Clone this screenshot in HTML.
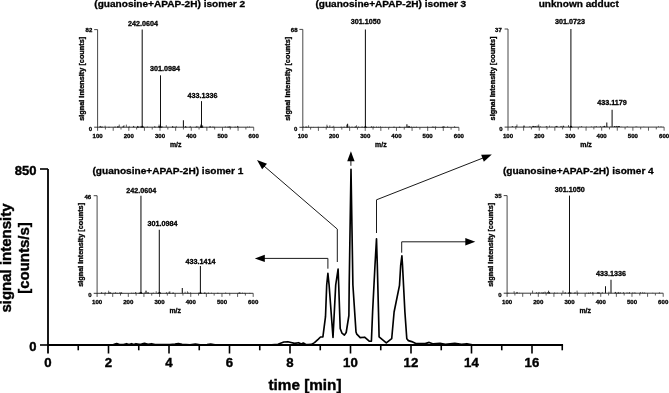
<!DOCTYPE html>
<html><head><meta charset="utf-8"><style>
html,body{margin:0;padding:0;background:#fff;width:669px;height:393px;overflow:hidden}
svg{display:block;filter:grayscale(1)}
</style></head><body>
<svg width="669" height="393" viewBox="0 0 669 393">
<rect width="669" height="393" fill="#fff"/>
<line x1="48" y1="169" x2="48" y2="353.5" stroke="#000" stroke-width="1.8"/>
<line x1="40" y1="169" x2="48" y2="169" stroke="#000" stroke-width="1.6"/>
<line x1="40" y1="345" x2="48" y2="345" stroke="#000" stroke-width="1.6"/>
<line x1="48" y1="345" x2="563.05" y2="345" stroke="#000" stroke-width="1.8"/>
<line x1="78.25" y1="345" x2="78.25" y2="350.3" stroke="#000" stroke-width="1.6"/>
<line x1="108.5" y1="345" x2="108.5" y2="353.5" stroke="#000" stroke-width="1.6"/>
<line x1="138.75" y1="345" x2="138.75" y2="350.3" stroke="#000" stroke-width="1.6"/>
<line x1="169" y1="345" x2="169" y2="353.5" stroke="#000" stroke-width="1.6"/>
<line x1="199.25" y1="345" x2="199.25" y2="350.3" stroke="#000" stroke-width="1.6"/>
<line x1="229.5" y1="345" x2="229.5" y2="353.5" stroke="#000" stroke-width="1.6"/>
<line x1="259.75" y1="345" x2="259.75" y2="350.3" stroke="#000" stroke-width="1.6"/>
<line x1="290" y1="345" x2="290" y2="353.5" stroke="#000" stroke-width="1.6"/>
<line x1="320.25" y1="345" x2="320.25" y2="350.3" stroke="#000" stroke-width="1.6"/>
<line x1="350.5" y1="345" x2="350.5" y2="353.5" stroke="#000" stroke-width="1.6"/>
<line x1="380.75" y1="345" x2="380.75" y2="350.3" stroke="#000" stroke-width="1.6"/>
<line x1="411" y1="345" x2="411" y2="353.5" stroke="#000" stroke-width="1.6"/>
<line x1="441.25" y1="345" x2="441.25" y2="350.3" stroke="#000" stroke-width="1.6"/>
<line x1="471.5" y1="345" x2="471.5" y2="353.5" stroke="#000" stroke-width="1.6"/>
<line x1="501.75" y1="345" x2="501.75" y2="350.3" stroke="#000" stroke-width="1.6"/>
<line x1="532" y1="345" x2="532" y2="353.5" stroke="#000" stroke-width="1.6"/>
<line x1="562.25" y1="345" x2="562.25" y2="350.3" stroke="#000" stroke-width="1.6"/>
<text x="36.4" y="174.7" font-family="'Liberation Sans', sans-serif" font-weight="bold" font-size="13" text-anchor="end" stroke="#000" stroke-width="0.4">850</text>
<text x="36.4" y="351.2" font-family="'Liberation Sans', sans-serif" font-weight="bold" font-size="13" text-anchor="end" stroke="#000" stroke-width="0.4">0</text>
<text x="47.9" y="367.1" font-family="'Liberation Sans', sans-serif" font-weight="bold" font-size="13.2" text-anchor="middle" stroke="#000" stroke-width="0.4">0</text>
<text x="108.4" y="367.1" font-family="'Liberation Sans', sans-serif" font-weight="bold" font-size="13.2" text-anchor="middle" stroke="#000" stroke-width="0.4">2</text>
<text x="168.9" y="367.1" font-family="'Liberation Sans', sans-serif" font-weight="bold" font-size="13.2" text-anchor="middle" stroke="#000" stroke-width="0.4">4</text>
<text x="229.4" y="367.1" font-family="'Liberation Sans', sans-serif" font-weight="bold" font-size="13.2" text-anchor="middle" stroke="#000" stroke-width="0.4">6</text>
<text x="289.9" y="367.1" font-family="'Liberation Sans', sans-serif" font-weight="bold" font-size="13.2" text-anchor="middle" stroke="#000" stroke-width="0.4">8</text>
<text x="350.4" y="367.1" font-family="'Liberation Sans', sans-serif" font-weight="bold" font-size="13.2" text-anchor="middle" stroke="#000" stroke-width="0.4">10</text>
<text x="410.9" y="367.1" font-family="'Liberation Sans', sans-serif" font-weight="bold" font-size="13.2" text-anchor="middle" stroke="#000" stroke-width="0.4">12</text>
<text x="471.4" y="367.1" font-family="'Liberation Sans', sans-serif" font-weight="bold" font-size="13.2" text-anchor="middle" stroke="#000" stroke-width="0.4">14</text>
<text x="531.9" y="367.1" font-family="'Liberation Sans', sans-serif" font-weight="bold" font-size="13.2" text-anchor="middle" stroke="#000" stroke-width="0.4">16</text>
<text x="305" y="389.6" font-family="'Liberation Sans', sans-serif" font-weight="bold" font-size="15.3" text-anchor="middle" stroke="#000" stroke-width="0.4">time [min]</text>
<text transform="translate(11,258) rotate(-90)" font-family="'Liberation Sans', sans-serif" font-weight="bold" font-size="15" text-anchor="middle" stroke="#000" stroke-width="0.4">signal intensity</text>
<text transform="translate(28.7,258) rotate(-90)" font-family="'Liberation Sans', sans-serif" font-weight="bold" font-size="15" text-anchor="middle" stroke="#000" stroke-width="0.4">[counts/s]</text>
<path d="M48,344.9 L110,344.9 L113.5,344.6 L116.7,343.6 L119.5,344.5 L123.5,344.5 L126.5,343.7 L129,344.5 L131.5,343.7 L133.7,344.5 L136,343.7 L139,344.4 L141.5,344.1 L144.5,343.3 L148,344.2 L151.6,343.7 L155,344.5 L170,344.6 L175,344 L178.4,343.5 L182,344.4 L190,344.7 L195.4,344.1 L200,344.8 L207,344.6 L210.7,344.1 L215,344.8 L271.7,344.8 L278,344.2 L283.8,342 L287.9,341.7 L291,342.5 L294.6,343.4 L298.6,342.7 L301.3,344 L303.3,343 L305.5,344.2 L308,344.6 L311.5,344.4 L314.5,342.6 L318.1,339.3 L320.5,337 L322.9,336.9 L325.5,316.7 L326.7,285 L327.9,273.3 L329.1,285 L333,337.5 L335.7,285 L338.1,269.1 L338.7,285 L340.2,328.5 L342,333.2 L344.4,335.1 L346.2,332.5 L348.9,315.5 L349.2,285 L351,169.3 L352.9,285 L356,332 L356.8,334.2 L360.2,337.6 L364.6,337.2 L367.2,339.4 L369.2,341.2 L371.4,341.2 L372.6,312 L375,265 L376.5,238.8 L377.3,265 L378.5,312 L379.1,336.9 L386.3,342.8 L391.7,338.7 L394.1,312 L399.5,285.3 L400.7,265 L401.9,255.9 L402.5,265 L404.9,312 L406.8,338.8 L408.4,340.6 L411.7,341.6 L415.8,343.6 L425.2,343.6 L429.2,342.4 L433.3,343.9 L440,343.4 L445.4,344.2 L454.8,343.4 L461.5,344.3 L466.9,343.7 L472.3,344.7 L480,344.9" fill="none" stroke="#000" stroke-width="1.65" stroke-linejoin="round"/>
<polyline points="337.3,262 337.3,229.1 264,166" fill="none" stroke="#1a1a1a" stroke-width="1.0"/>
<path d="M257,160 L266.99,163.72 L262.17,169.33 Z" fill="#000"/>
<line x1="350.9" y1="165.8" x2="350.9" y2="160" stroke="#1a1a1a" stroke-width="1.0"/>
<path d="M350.9,151.3 L354.6,161.3 L347.2,161.3 Z" fill="#000"/>
<polyline points="327.9,268.7 327.9,258.4 262,258.4" fill="none" stroke="#1a1a1a" stroke-width="1.0"/>
<path d="M254.8,258.4 L264.8,254.7 L264.8,262.1 Z" fill="#000"/>
<polyline points="376.5,233 376.5,199.8 484,157.6" fill="none" stroke="#1a1a1a" stroke-width="1.0"/>
<path d="M491.8,154.6 L483.84,161.69 L481.14,154.81 Z" fill="#000"/>
<polyline points="401.7,252.7 401.7,241.8 468,241.8" fill="none" stroke="#1a1a1a" stroke-width="1.0"/>
<path d="M475.3,241.8 L465.3,245.5 L465.3,238.1 Z" fill="#000"/>
<text transform="translate(169.7,7.4) scale(1,0.9)" font-family="'Liberation Sans', sans-serif" font-weight="bold" font-size="10.1" text-anchor="middle" stroke="#000" stroke-width="0.32">(guanosine+APAP-2H) isomer 2</text>
<line x1="97.6" y1="29.6" x2="97.6" y2="130.8" stroke="#333" stroke-width="0.9"/>
<line x1="94.2" y1="29.6" x2="97.6" y2="29.6" stroke="#333" stroke-width="0.9"/>
<line x1="94.2" y1="127.2" x2="253.7" y2="127.2" stroke="#222" stroke-width="0.9"/>
<line x1="105.41" y1="127.2" x2="105.41" y2="129.5" stroke="#333" stroke-width="0.8"/>
<line x1="113.21" y1="127.2" x2="113.21" y2="130.8" stroke="#333" stroke-width="0.8"/>
<line x1="121.01" y1="127.2" x2="121.01" y2="129.5" stroke="#333" stroke-width="0.8"/>
<line x1="128.82" y1="127.2" x2="128.82" y2="130.8" stroke="#333" stroke-width="0.8"/>
<line x1="136.62" y1="127.2" x2="136.62" y2="129.5" stroke="#333" stroke-width="0.8"/>
<line x1="144.43" y1="127.2" x2="144.43" y2="130.8" stroke="#333" stroke-width="0.8"/>
<line x1="152.23" y1="127.2" x2="152.23" y2="129.5" stroke="#333" stroke-width="0.8"/>
<line x1="160.04" y1="127.2" x2="160.04" y2="130.8" stroke="#333" stroke-width="0.8"/>
<line x1="167.84" y1="127.2" x2="167.84" y2="129.5" stroke="#333" stroke-width="0.8"/>
<line x1="175.65" y1="127.2" x2="175.65" y2="130.8" stroke="#333" stroke-width="0.8"/>
<line x1="183.45" y1="127.2" x2="183.45" y2="129.5" stroke="#333" stroke-width="0.8"/>
<line x1="191.26" y1="127.2" x2="191.26" y2="130.8" stroke="#333" stroke-width="0.8"/>
<line x1="199.06" y1="127.2" x2="199.06" y2="129.5" stroke="#333" stroke-width="0.8"/>
<line x1="206.87" y1="127.2" x2="206.87" y2="130.8" stroke="#333" stroke-width="0.8"/>
<line x1="214.67" y1="127.2" x2="214.67" y2="129.5" stroke="#333" stroke-width="0.8"/>
<line x1="222.48" y1="127.2" x2="222.48" y2="130.8" stroke="#333" stroke-width="0.8"/>
<line x1="230.28" y1="127.2" x2="230.28" y2="129.5" stroke="#333" stroke-width="0.8"/>
<line x1="238.09" y1="127.2" x2="238.09" y2="130.8" stroke="#333" stroke-width="0.8"/>
<line x1="245.89" y1="127.2" x2="245.89" y2="129.5" stroke="#333" stroke-width="0.8"/>
<line x1="253.7" y1="127.2" x2="253.7" y2="130.8" stroke="#333" stroke-width="0.8"/>
<text x="92.3" y="32.4" font-family="'Liberation Sans', sans-serif" font-weight="bold" font-size="6.0" text-anchor="end" stroke="#000" stroke-width="0.3">82</text>
<text x="92.2" y="130.6" font-family="'Liberation Sans', sans-serif" font-weight="bold" font-size="6.0" text-anchor="end" stroke="#000" stroke-width="0.3">0</text>
<text x="97.6" y="137.6" font-family="'Liberation Sans', sans-serif" font-weight="bold" font-size="6.1" text-anchor="middle" stroke="#000" stroke-width="0.3">100</text>
<text x="128.82" y="137.6" font-family="'Liberation Sans', sans-serif" font-weight="bold" font-size="6.1" text-anchor="middle" stroke="#000" stroke-width="0.3">200</text>
<text x="160.04" y="137.6" font-family="'Liberation Sans', sans-serif" font-weight="bold" font-size="6.1" text-anchor="middle" stroke="#000" stroke-width="0.3">300</text>
<text x="191.26" y="137.6" font-family="'Liberation Sans', sans-serif" font-weight="bold" font-size="6.1" text-anchor="middle" stroke="#000" stroke-width="0.3">400</text>
<text x="222.48" y="137.6" font-family="'Liberation Sans', sans-serif" font-weight="bold" font-size="6.1" text-anchor="middle" stroke="#000" stroke-width="0.3">500</text>
<text x="253.7" y="137.6" font-family="'Liberation Sans', sans-serif" font-weight="bold" font-size="6.1" text-anchor="middle" stroke="#000" stroke-width="0.3">600</text>
<text x="175.65" y="147" font-family="'Liberation Sans', sans-serif" font-weight="bold" font-size="6.9" text-anchor="middle" stroke="#000" stroke-width="0.3">m/z</text>
<text transform="translate(84.3,78.8) rotate(-90)" font-family="'Liberation Sans', sans-serif" font-weight="bold" font-size="7.3" text-anchor="middle" stroke="#000" stroke-width="0.3">signal intensity [counts]</text>
<path d="M194.79,127.2 L195.59,126.7 L196.39,127.2 Z" fill="#111"/>
<path d="M184.55,127.2 L185.65,126.1 L186.75,127.2 Z" fill="#111"/>
<path d="M107.91,127.2 L109.01,126.7 L110.11,127.2 Z" fill="#111"/>
<path d="M184.7,127.2 L185.8,126.7 L186.9,127.2 Z" fill="#111"/>
<path d="M189.95,127.2 L190.35,125.8 L190.75,127.2 Z" fill="#111"/>
<path d="M213.91,127.2 L214.31,126.7 L214.71,127.2 Z" fill="#111"/>
<path d="M226.89,127.2 L227.99,126.5 L229.09,127.2 Z" fill="#111"/>
<path d="M157.74,127.2 L158.84,126.1 L159.94,127.2 Z" fill="#111"/>
<path d="M136.84,127.2 L137.94,126.5 L139.04,127.2 Z" fill="#111"/>
<path d="M248.87,127.2 L249.27,126.1 L249.67,127.2 Z" fill="#111"/>
<path d="M211.86,127.2 L212.26,126.3 L212.66,127.2 Z" fill="#111"/>
<path d="M200.02,127.2 L201.12,125.8 L202.22,127.2 Z" fill="#111"/>
<path d="M202,127.2 L202.8,126.5 L203.6,127.2 Z" fill="#111"/>
<path d="M208.96,127.2 L210.06,126.1 L211.16,127.2 Z" fill="#111"/>
<path d="M101.09,127.2 L102.19,126.5 L103.29,127.2 Z" fill="#111"/>
<path d="M117.3,127.2 L118.1,125.8 L118.9,127.2 Z" fill="#111"/>
<path d="M173.88,127.2 L174.48,126.7 L175.08,127.2 Z" fill="#111"/>
<path d="M143.01,127.2 L143.41,126.1 L143.81,127.2 Z" fill="#111"/>
<path d="M132.57,127.2 L133.67,125.8 L134.77,127.2 Z" fill="#111"/>
<path d="M117.19,127.2 L117.59,126.5 L117.99,127.2 Z" fill="#111"/>
<path d="M159.62,127.2 L160.22,125.8 L160.82,127.2 Z" fill="#111"/>
<path d="M136.93,127.2 L137.73,125.8 L138.53,127.2 Z" fill="#111"/>
<path d="M128.76,127.2 L129.16,125.8 L129.56,127.2 Z" fill="#111"/>
<path d="M196.08,127.2 L196.68,125.8 L197.28,127.2 Z" fill="#111"/>
<path d="M162.32,127.2 L162.72,126.1 L163.12,127.2 Z" fill="#111"/>
<path d="M139.53,127.2 L140.13,125.8 L140.73,127.2 Z" fill="#111"/>
<path d="M228.15,127.2 L229.25,126.3 L230.35,127.2 Z" fill="#111"/>
<path d="M159.29,127.2 L160.09,125.8 L160.89,127.2 Z" fill="#111"/>
<path d="M100.84,127.2 L101.44,126.5 L102.04,127.2 Z" fill="#111"/>
<path d="M118.19,127.2 L118.99,126.7 L119.79,127.2 Z" fill="#111"/>
<path d="M206.23,127.2 L206.63,126.7 L207.03,127.2 Z" fill="#111"/>
<path d="M230.19,127.2 L230.79,126.3 L231.39,127.2 Z" fill="#111"/>
<path d="M189.02,127.2 L189.82,126.5 L190.62,127.2 Z" fill="#111"/>
<path d="M116.86,127.2 L117.46,126.3 L118.06,127.2 Z" fill="#111"/>
<path d="M171.6,127.2 L172.7,126.3 L173.8,127.2 Z" fill="#111"/>
<path d="M154.87,127.2 L155.27,126.7 L155.67,127.2 Z" fill="#111"/>
<path d="M136.87,127.2 L137.67,126.5 L138.47,127.2 Z" fill="#111"/>
<path d="M201,127.2 L201.6,125.8 L202.2,127.2 Z" fill="#111"/>
<path d="M229.36,127.2 L229.96,126.7 L230.56,127.2 Z" fill="#111"/>
<path d="M113.95,127.2 L115.05,126.5 L116.15,127.2 Z" fill="#111"/>
<path d="M175.54,127.2 L176.14,125.8 L176.74,127.2 Z" fill="#111"/>
<path d="M236.63,127.2 L237.73,125.8 L238.83,127.2 Z" fill="#111"/>
<path d="M171.93,127.2 L172.73,126.1 L173.53,127.2 Z" fill="#111"/>
<path d="M146.6,127.2 L147.2,126.3 L147.8,127.2 Z" fill="#111"/>
<path d="M246.88,127.2 L247.28,126.3 L247.68,127.2 Z" fill="#111"/>
<path d="M224.63,127.2 L225.23,126.3 L225.83,127.2 Z" fill="#111"/>
<path d="M126.82,127.2 L127.22,126.7 L127.62,127.2 Z" fill="#111"/>
<path d="M122.12,127.2 L123.22,125.8 L124.32,127.2 Z" fill="#111"/>
<path d="M197.52,127.2 L197.92,125.8 L198.32,127.2 Z" fill="#111"/>
<path d="M136.98,127.2 L138.08,126.5 L139.18,127.2 Z" fill="#111"/>
<path d="M153.99,127.2 L154.79,126.1 L155.59,127.2 Z" fill="#111"/>
<path d="M99.1,127.2 L100.2,125.8 L101.3,127.2 Z" fill="#111"/>
<path d="M213.02,127.2 L213.82,126.5 L214.62,127.2 Z" fill="#111"/>
<path d="M234.3,127.2 L235.1,126.5 L235.9,127.2 Z" fill="#111"/>
<path d="M127.75,127.2 L128.85,126.7 L129.95,127.2 Z" fill="#111"/>
<line x1="202.58" y1="127.2" x2="202.58" y2="125.2" stroke="#222" stroke-width="0.7"/>
<line x1="200.64" y1="127.2" x2="200.64" y2="124.6" stroke="#222" stroke-width="0.7"/>
<line x1="159.11" y1="127.2" x2="159.11" y2="124.6" stroke="#222" stroke-width="0.7"/>
<line x1="126.36" y1="127.2" x2="126.36" y2="124.6" stroke="#222" stroke-width="0.7"/>
<line x1="105.14" y1="127.2" x2="105.14" y2="125.7" stroke="#222" stroke-width="0.7"/>
<line x1="119.26" y1="127.2" x2="119.26" y2="124.6" stroke="#222" stroke-width="0.7"/>
<line x1="123.99" y1="127.2" x2="123.99" y2="125.2" stroke="#222" stroke-width="0.7"/>
<line x1="166.31" y1="127.2" x2="166.31" y2="125.2" stroke="#222" stroke-width="0.7"/>
<line x1="142.2" y1="127.2" x2="142.2" y2="29.6" stroke="#111" stroke-width="1.05"/>
<path d="M140.4,127.5 L142.2,125.6 L144,127.5 Z" fill="#000"/>
<line x1="160.5" y1="127.2" x2="160.5" y2="75.31" stroke="#111" stroke-width="1.05"/>
<path d="M158.7,127.5 L160.5,125.6 L162.3,127.5 Z" fill="#000"/>
<line x1="201.5" y1="127.2" x2="201.5" y2="101.13" stroke="#111" stroke-width="1.05"/>
<path d="M199.7,127.5 L201.5,125.6 L203.3,127.5 Z" fill="#000"/>
<line x1="183.4" y1="127.2" x2="183.4" y2="120.3" stroke="#111" stroke-width="1.05"/>
<text x="143" y="25.6" font-family="'Liberation Sans', sans-serif" font-weight="bold" font-size="7.2" text-anchor="middle" stroke="#000" stroke-width="0.3">242.0604</text>
<text x="165" y="71.4" font-family="'Liberation Sans', sans-serif" font-weight="bold" font-size="7.2" text-anchor="middle" stroke="#000" stroke-width="0.3">301.0984</text>
<text x="202.5" y="97.8" font-family="'Liberation Sans', sans-serif" font-weight="bold" font-size="7.2" text-anchor="middle" stroke="#000" stroke-width="0.3">433.1336</text>
<text transform="translate(390.8,7.4) scale(1,0.9)" font-family="'Liberation Sans', sans-serif" font-weight="bold" font-size="10.1" text-anchor="middle" stroke="#000" stroke-width="0.32">(guanosine+APAP-2H) isomer 3</text>
<line x1="302.8" y1="29.4" x2="302.8" y2="130.9" stroke="#333" stroke-width="0.9"/>
<line x1="299.4" y1="29.4" x2="302.8" y2="29.4" stroke="#333" stroke-width="0.9"/>
<line x1="299.4" y1="127.3" x2="458.9" y2="127.3" stroke="#222" stroke-width="0.9"/>
<line x1="310.61" y1="127.3" x2="310.61" y2="129.6" stroke="#333" stroke-width="0.8"/>
<line x1="318.41" y1="127.3" x2="318.41" y2="130.9" stroke="#333" stroke-width="0.8"/>
<line x1="326.22" y1="127.3" x2="326.22" y2="129.6" stroke="#333" stroke-width="0.8"/>
<line x1="334.02" y1="127.3" x2="334.02" y2="130.9" stroke="#333" stroke-width="0.8"/>
<line x1="341.82" y1="127.3" x2="341.82" y2="129.6" stroke="#333" stroke-width="0.8"/>
<line x1="349.63" y1="127.3" x2="349.63" y2="130.9" stroke="#333" stroke-width="0.8"/>
<line x1="357.44" y1="127.3" x2="357.44" y2="129.6" stroke="#333" stroke-width="0.8"/>
<line x1="365.24" y1="127.3" x2="365.24" y2="130.9" stroke="#333" stroke-width="0.8"/>
<line x1="373.05" y1="127.3" x2="373.05" y2="129.6" stroke="#333" stroke-width="0.8"/>
<line x1="380.85" y1="127.3" x2="380.85" y2="130.9" stroke="#333" stroke-width="0.8"/>
<line x1="388.65" y1="127.3" x2="388.65" y2="129.6" stroke="#333" stroke-width="0.8"/>
<line x1="396.46" y1="127.3" x2="396.46" y2="130.9" stroke="#333" stroke-width="0.8"/>
<line x1="404.26" y1="127.3" x2="404.26" y2="129.6" stroke="#333" stroke-width="0.8"/>
<line x1="412.07" y1="127.3" x2="412.07" y2="130.9" stroke="#333" stroke-width="0.8"/>
<line x1="419.88" y1="127.3" x2="419.88" y2="129.6" stroke="#333" stroke-width="0.8"/>
<line x1="427.68" y1="127.3" x2="427.68" y2="130.9" stroke="#333" stroke-width="0.8"/>
<line x1="435.49" y1="127.3" x2="435.49" y2="129.6" stroke="#333" stroke-width="0.8"/>
<line x1="443.29" y1="127.3" x2="443.29" y2="130.9" stroke="#333" stroke-width="0.8"/>
<line x1="451.1" y1="127.3" x2="451.1" y2="129.6" stroke="#333" stroke-width="0.8"/>
<line x1="458.9" y1="127.3" x2="458.9" y2="130.9" stroke="#333" stroke-width="0.8"/>
<text x="297.5" y="32.2" font-family="'Liberation Sans', sans-serif" font-weight="bold" font-size="6.0" text-anchor="end" stroke="#000" stroke-width="0.3">68</text>
<text x="297.4" y="130.7" font-family="'Liberation Sans', sans-serif" font-weight="bold" font-size="6.0" text-anchor="end" stroke="#000" stroke-width="0.3">0</text>
<text x="302.8" y="137.7" font-family="'Liberation Sans', sans-serif" font-weight="bold" font-size="6.1" text-anchor="middle" stroke="#000" stroke-width="0.3">100</text>
<text x="334.02" y="137.7" font-family="'Liberation Sans', sans-serif" font-weight="bold" font-size="6.1" text-anchor="middle" stroke="#000" stroke-width="0.3">200</text>
<text x="365.24" y="137.7" font-family="'Liberation Sans', sans-serif" font-weight="bold" font-size="6.1" text-anchor="middle" stroke="#000" stroke-width="0.3">300</text>
<text x="396.46" y="137.7" font-family="'Liberation Sans', sans-serif" font-weight="bold" font-size="6.1" text-anchor="middle" stroke="#000" stroke-width="0.3">400</text>
<text x="427.68" y="137.7" font-family="'Liberation Sans', sans-serif" font-weight="bold" font-size="6.1" text-anchor="middle" stroke="#000" stroke-width="0.3">500</text>
<text x="458.9" y="137.7" font-family="'Liberation Sans', sans-serif" font-weight="bold" font-size="6.1" text-anchor="middle" stroke="#000" stroke-width="0.3">600</text>
<text x="380.85" y="147.1" font-family="'Liberation Sans', sans-serif" font-weight="bold" font-size="6.9" text-anchor="middle" stroke="#000" stroke-width="0.3">m/z</text>
<text transform="translate(290.1,78.75) rotate(-90)" font-family="'Liberation Sans', sans-serif" font-weight="bold" font-size="7.3" text-anchor="middle" stroke="#000" stroke-width="0.3">signal intensity [counts]</text>
<path d="M454.9,127.3 L455.3,126.8 L455.7,127.3 Z" fill="#111"/>
<path d="M398.61,127.3 L399.41,126.4 L400.21,127.3 Z" fill="#111"/>
<path d="M372.54,127.3 L373.14,125.9 L373.74,127.3 Z" fill="#111"/>
<path d="M442.43,127.3 L443.23,125.9 L444.03,127.3 Z" fill="#111"/>
<path d="M354.13,127.3 L354.53,126.4 L354.93,127.3 Z" fill="#111"/>
<path d="M431.42,127.3 L432.52,126.4 L433.62,127.3 Z" fill="#111"/>
<path d="M404.39,127.3 L404.99,126.6 L405.59,127.3 Z" fill="#111"/>
<path d="M305.57,127.3 L306.17,126.4 L306.77,127.3 Z" fill="#111"/>
<path d="M361.44,127.3 L362.04,125.9 L362.64,127.3 Z" fill="#111"/>
<path d="M434.91,127.3 L435.71,126.2 L436.51,127.3 Z" fill="#111"/>
<path d="M343.47,127.3 L344.07,126.2 L344.67,127.3 Z" fill="#111"/>
<path d="M433.32,127.3 L433.92,126.2 L434.52,127.3 Z" fill="#111"/>
<path d="M408.88,127.3 L409.68,125.9 L410.48,127.3 Z" fill="#111"/>
<path d="M354.86,127.3 L355.66,126.2 L356.46,127.3 Z" fill="#111"/>
<path d="M408.06,127.3 L409.16,126.2 L410.26,127.3 Z" fill="#111"/>
<path d="M410.69,127.3 L411.49,126.6 L412.29,127.3 Z" fill="#111"/>
<path d="M357.44,127.3 L358.54,126.4 L359.64,127.3 Z" fill="#111"/>
<path d="M326.5,127.3 L327.3,125.9 L328.1,127.3 Z" fill="#111"/>
<path d="M441.84,127.3 L442.64,126.8 L443.44,127.3 Z" fill="#111"/>
<path d="M407.3,127.3 L407.7,126.6 L408.1,127.3 Z" fill="#111"/>
<path d="M377.84,127.3 L378.44,126.4 L379.04,127.3 Z" fill="#111"/>
<path d="M408.05,127.3 L408.65,125.9 L409.25,127.3 Z" fill="#111"/>
<path d="M427.47,127.3 L427.87,126.6 L428.27,127.3 Z" fill="#111"/>
<path d="M385.4,127.3 L385.8,126.8 L386.2,127.3 Z" fill="#111"/>
<path d="M322.77,127.3 L323.17,126.8 L323.57,127.3 Z" fill="#111"/>
<path d="M310.78,127.3 L311.18,126.8 L311.58,127.3 Z" fill="#111"/>
<path d="M317.51,127.3 L318.11,126.6 L318.71,127.3 Z" fill="#111"/>
<path d="M303.25,127.3 L303.65,125.9 L304.05,127.3 Z" fill="#111"/>
<path d="M331.5,127.3 L331.9,126.8 L332.3,127.3 Z" fill="#111"/>
<path d="M373.31,127.3 L374.11,126.8 L374.91,127.3 Z" fill="#111"/>
<path d="M306.56,127.3 L306.96,126.2 L307.36,127.3 Z" fill="#111"/>
<path d="M447.2,127.3 L447.8,125.9 L448.4,127.3 Z" fill="#111"/>
<path d="M328.94,127.3 L329.34,126.4 L329.74,127.3 Z" fill="#111"/>
<path d="M392.9,127.3 L394,126.6 L395.1,127.3 Z" fill="#111"/>
<path d="M340.3,127.3 L341.1,126.4 L341.9,127.3 Z" fill="#111"/>
<path d="M414.35,127.3 L414.95,126.8 L415.55,127.3 Z" fill="#111"/>
<path d="M331.89,127.3 L332.49,126.6 L333.09,127.3 Z" fill="#111"/>
<path d="M355.11,127.3 L355.51,126.6 L355.91,127.3 Z" fill="#111"/>
<path d="M426.99,127.3 L427.39,126.2 L427.79,127.3 Z" fill="#111"/>
<path d="M370.55,127.3 L371.35,125.9 L372.15,127.3 Z" fill="#111"/>
<path d="M351.62,127.3 L352.02,125.9 L352.42,127.3 Z" fill="#111"/>
<path d="M347.23,127.3 L347.63,126.6 L348.03,127.3 Z" fill="#111"/>
<path d="M313.11,127.3 L313.51,126.8 L313.91,127.3 Z" fill="#111"/>
<path d="M389.06,127.3 L389.66,126.8 L390.26,127.3 Z" fill="#111"/>
<path d="M379.54,127.3 L380.34,126.2 L381.14,127.3 Z" fill="#111"/>
<path d="M345.98,127.3 L347.08,126.6 L348.18,127.3 Z" fill="#111"/>
<path d="M305.47,127.3 L305.87,125.9 L306.27,127.3 Z" fill="#111"/>
<path d="M453.96,127.3 L454.56,125.9 L455.16,127.3 Z" fill="#111"/>
<path d="M443.4,127.3 L444.2,126.2 L445,127.3 Z" fill="#111"/>
<path d="M413,127.3 L413.8,126.8 L414.6,127.3 Z" fill="#111"/>
<path d="M415.62,127.3 L416.42,126.4 L417.22,127.3 Z" fill="#111"/>
<path d="M381.76,127.3 L382.16,126.8 L382.56,127.3 Z" fill="#111"/>
<path d="M398.9,127.3 L400,126.8 L401.1,127.3 Z" fill="#111"/>
<path d="M376.04,127.3 L376.64,126.2 L377.24,127.3 Z" fill="#111"/>
<path d="M441.46,127.3 L442.26,126.8 L443.06,127.3 Z" fill="#111"/>
<line x1="308.56" y1="127.3" x2="308.56" y2="125.3" stroke="#222" stroke-width="0.7"/>
<line x1="408.12" y1="127.3" x2="408.12" y2="125.8" stroke="#222" stroke-width="0.7"/>
<line x1="329.87" y1="127.3" x2="329.87" y2="125.3" stroke="#222" stroke-width="0.7"/>
<line x1="326.94" y1="127.3" x2="326.94" y2="124.7" stroke="#222" stroke-width="0.7"/>
<line x1="346.72" y1="127.3" x2="346.72" y2="124.7" stroke="#222" stroke-width="0.7"/>
<line x1="356.54" y1="127.3" x2="356.54" y2="125.3" stroke="#222" stroke-width="0.7"/>
<line x1="349.09" y1="127.3" x2="349.09" y2="125.8" stroke="#222" stroke-width="0.7"/>
<line x1="333.69" y1="127.3" x2="333.69" y2="125.8" stroke="#222" stroke-width="0.7"/>
<line x1="365.4" y1="127.3" x2="365.4" y2="29.4" stroke="#111" stroke-width="1.05"/>
<path d="M363.6,127.6 L365.4,125.7 L367.2,127.6 Z" fill="#000"/>
<line x1="347.6" y1="127.3" x2="347.6" y2="123.84" stroke="#111" stroke-width="1.05"/>
<line x1="406.9" y1="127.3" x2="406.9" y2="124.13" stroke="#111" stroke-width="1.05"/>
<text x="365.7" y="24" font-family="'Liberation Sans', sans-serif" font-weight="bold" font-size="7.2" text-anchor="middle" stroke="#000" stroke-width="0.3">301.1050</text>
<text transform="translate(578.75,7.4) scale(1,0.9)" font-family="'Liberation Sans', sans-serif" font-weight="bold" font-size="10.1" text-anchor="middle" stroke="#000" stroke-width="0.32">unknown adduct</text>
<line x1="508" y1="29" x2="508" y2="130.7" stroke="#333" stroke-width="0.9"/>
<line x1="504.6" y1="29" x2="508" y2="29" stroke="#333" stroke-width="0.9"/>
<line x1="504.6" y1="127.1" x2="664.1" y2="127.1" stroke="#222" stroke-width="0.9"/>
<line x1="515.8" y1="127.1" x2="515.8" y2="129.4" stroke="#333" stroke-width="0.8"/>
<line x1="523.61" y1="127.1" x2="523.61" y2="130.7" stroke="#333" stroke-width="0.8"/>
<line x1="531.41" y1="127.1" x2="531.41" y2="129.4" stroke="#333" stroke-width="0.8"/>
<line x1="539.22" y1="127.1" x2="539.22" y2="130.7" stroke="#333" stroke-width="0.8"/>
<line x1="547.02" y1="127.1" x2="547.02" y2="129.4" stroke="#333" stroke-width="0.8"/>
<line x1="554.83" y1="127.1" x2="554.83" y2="130.7" stroke="#333" stroke-width="0.8"/>
<line x1="562.63" y1="127.1" x2="562.63" y2="129.4" stroke="#333" stroke-width="0.8"/>
<line x1="570.44" y1="127.1" x2="570.44" y2="130.7" stroke="#333" stroke-width="0.8"/>
<line x1="578.25" y1="127.1" x2="578.25" y2="129.4" stroke="#333" stroke-width="0.8"/>
<line x1="586.05" y1="127.1" x2="586.05" y2="130.7" stroke="#333" stroke-width="0.8"/>
<line x1="593.86" y1="127.1" x2="593.86" y2="129.4" stroke="#333" stroke-width="0.8"/>
<line x1="601.66" y1="127.1" x2="601.66" y2="130.7" stroke="#333" stroke-width="0.8"/>
<line x1="609.47" y1="127.1" x2="609.47" y2="129.4" stroke="#333" stroke-width="0.8"/>
<line x1="617.27" y1="127.1" x2="617.27" y2="130.7" stroke="#333" stroke-width="0.8"/>
<line x1="625.08" y1="127.1" x2="625.08" y2="129.4" stroke="#333" stroke-width="0.8"/>
<line x1="632.88" y1="127.1" x2="632.88" y2="130.7" stroke="#333" stroke-width="0.8"/>
<line x1="640.68" y1="127.1" x2="640.68" y2="129.4" stroke="#333" stroke-width="0.8"/>
<line x1="648.49" y1="127.1" x2="648.49" y2="130.7" stroke="#333" stroke-width="0.8"/>
<line x1="656.29" y1="127.1" x2="656.29" y2="129.4" stroke="#333" stroke-width="0.8"/>
<line x1="664.1" y1="127.1" x2="664.1" y2="130.7" stroke="#333" stroke-width="0.8"/>
<text x="501.8" y="31.8" font-family="'Liberation Sans', sans-serif" font-weight="bold" font-size="6.0" text-anchor="end" stroke="#000" stroke-width="0.3">37</text>
<text x="502.6" y="130.5" font-family="'Liberation Sans', sans-serif" font-weight="bold" font-size="6.0" text-anchor="end" stroke="#000" stroke-width="0.3">0</text>
<text x="508" y="137.5" font-family="'Liberation Sans', sans-serif" font-weight="bold" font-size="6.1" text-anchor="middle" stroke="#000" stroke-width="0.3">100</text>
<text x="539.22" y="137.5" font-family="'Liberation Sans', sans-serif" font-weight="bold" font-size="6.1" text-anchor="middle" stroke="#000" stroke-width="0.3">200</text>
<text x="570.44" y="137.5" font-family="'Liberation Sans', sans-serif" font-weight="bold" font-size="6.1" text-anchor="middle" stroke="#000" stroke-width="0.3">300</text>
<text x="601.66" y="137.5" font-family="'Liberation Sans', sans-serif" font-weight="bold" font-size="6.1" text-anchor="middle" stroke="#000" stroke-width="0.3">400</text>
<text x="632.88" y="137.5" font-family="'Liberation Sans', sans-serif" font-weight="bold" font-size="6.1" text-anchor="middle" stroke="#000" stroke-width="0.3">500</text>
<text x="664.1" y="137.5" font-family="'Liberation Sans', sans-serif" font-weight="bold" font-size="6.1" text-anchor="middle" stroke="#000" stroke-width="0.3">600</text>
<text x="586.05" y="146.9" font-family="'Liberation Sans', sans-serif" font-weight="bold" font-size="6.9" text-anchor="middle" stroke="#000" stroke-width="0.3">m/z</text>
<text transform="translate(494.9,78.45) rotate(-90)" font-family="'Liberation Sans', sans-serif" font-weight="bold" font-size="7.3" text-anchor="middle" stroke="#000" stroke-width="0.3">signal intensity [counts]</text>
<path d="M570.05,127.1 L571.15,126.2 L572.25,127.1 Z" fill="#111"/>
<path d="M515.05,127.1 L516.15,126.6 L517.25,127.1 Z" fill="#111"/>
<path d="M534.45,127.1 L535.55,126 L536.65,127.1 Z" fill="#111"/>
<path d="M606.95,127.1 L607.55,126.4 L608.15,127.1 Z" fill="#111"/>
<path d="M643.53,127.1 L643.93,126.6 L644.33,127.1 Z" fill="#111"/>
<path d="M617.83,127.1 L618.63,126.6 L619.43,127.1 Z" fill="#111"/>
<path d="M602.14,127.1 L603.24,126.2 L604.34,127.1 Z" fill="#111"/>
<path d="M613.24,127.1 L614.34,126 L615.44,127.1 Z" fill="#111"/>
<path d="M600.04,127.1 L600.64,126 L601.24,127.1 Z" fill="#111"/>
<path d="M626.22,127.1 L627.32,126.4 L628.42,127.1 Z" fill="#111"/>
<path d="M618.75,127.1 L619.55,126 L620.35,127.1 Z" fill="#111"/>
<path d="M603.58,127.1 L604.38,125.7 L605.18,127.1 Z" fill="#111"/>
<path d="M554.65,127.1 L555.45,126.4 L556.25,127.1 Z" fill="#111"/>
<path d="M614.75,127.1 L615.35,126.2 L615.95,127.1 Z" fill="#111"/>
<path d="M545.72,127.1 L546.12,125.7 L546.52,127.1 Z" fill="#111"/>
<path d="M532.08,127.1 L532.88,125.7 L533.68,127.1 Z" fill="#111"/>
<path d="M515.52,127.1 L515.92,126 L516.32,127.1 Z" fill="#111"/>
<path d="M515.88,127.1 L516.28,126.4 L516.68,127.1 Z" fill="#111"/>
<path d="M596.55,127.1 L596.95,126.6 L597.35,127.1 Z" fill="#111"/>
<path d="M595.33,127.1 L596.13,126 L596.93,127.1 Z" fill="#111"/>
<path d="M613.94,127.1 L614.54,126.2 L615.14,127.1 Z" fill="#111"/>
<path d="M635.2,127.1 L635.6,126.6 L636,127.1 Z" fill="#111"/>
<path d="M511.13,127.1 L512.23,126.4 L513.33,127.1 Z" fill="#111"/>
<path d="M538.08,127.1 L538.88,126.6 L539.68,127.1 Z" fill="#111"/>
<path d="M617.66,127.1 L618.76,126 L619.86,127.1 Z" fill="#111"/>
<path d="M567.98,127.1 L568.38,125.7 L568.78,127.1 Z" fill="#111"/>
<path d="M615.89,127.1 L616.69,125.7 L617.49,127.1 Z" fill="#111"/>
<path d="M590.58,127.1 L591.38,126.4 L592.18,127.1 Z" fill="#111"/>
<path d="M537.49,127.1 L538.29,126.2 L539.09,127.1 Z" fill="#111"/>
<path d="M555.53,127.1 L556.33,125.7 L557.13,127.1 Z" fill="#111"/>
<path d="M578.97,127.1 L579.37,126.4 L579.77,127.1 Z" fill="#111"/>
<path d="M546.02,127.1 L546.82,126.2 L547.62,127.1 Z" fill="#111"/>
<path d="M540.27,127.1 L540.67,126 L541.07,127.1 Z" fill="#111"/>
<path d="M617.53,127.1 L618.33,126.6 L619.13,127.1 Z" fill="#111"/>
<path d="M560.25,127.1 L561.05,125.7 L561.85,127.1 Z" fill="#111"/>
<path d="M529.11,127.1 L529.91,126.2 L530.71,127.1 Z" fill="#111"/>
<path d="M551.36,127.1 L551.96,126.6 L552.56,127.1 Z" fill="#111"/>
<path d="M533.59,127.1 L534.19,126.2 L534.79,127.1 Z" fill="#111"/>
<path d="M586.13,127.1 L586.53,126.6 L586.93,127.1 Z" fill="#111"/>
<path d="M616.57,127.1 L617.67,126.4 L618.77,127.1 Z" fill="#111"/>
<path d="M660.2,127.1 L661,126.6 L661.8,127.1 Z" fill="#111"/>
<path d="M532.57,127.1 L533.67,125.7 L534.77,127.1 Z" fill="#111"/>
<path d="M598.44,127.1 L599.04,126.6 L599.64,127.1 Z" fill="#111"/>
<path d="M604.1,127.1 L604.7,125.7 L605.3,127.1 Z" fill="#111"/>
<path d="M635.99,127.1 L636.79,126.6 L637.59,127.1 Z" fill="#111"/>
<path d="M556.22,127.1 L557.02,125.7 L557.82,127.1 Z" fill="#111"/>
<path d="M580.39,127.1 L581.49,126.2 L582.59,127.1 Z" fill="#111"/>
<path d="M512.11,127.1 L512.71,126 L513.31,127.1 Z" fill="#111"/>
<path d="M562.37,127.1 L563.47,125.7 L564.57,127.1 Z" fill="#111"/>
<path d="M621.48,127.1 L621.88,126.4 L622.28,127.1 Z" fill="#111"/>
<path d="M603.95,127.1 L604.75,125.7 L605.55,127.1 Z" fill="#111"/>
<path d="M610.04,127.1 L610.84,126.6 L611.64,127.1 Z" fill="#111"/>
<path d="M536.12,127.1 L536.72,126.6 L537.32,127.1 Z" fill="#111"/>
<path d="M658.22,127.1 L658.62,125.7 L659.02,127.1 Z" fill="#111"/>
<path d="M593.45,127.1 L594.25,126.4 L595.05,127.1 Z" fill="#111"/>
<line x1="537.24" y1="127.1" x2="537.24" y2="125.6" stroke="#222" stroke-width="0.7"/>
<line x1="568.48" y1="127.1" x2="568.48" y2="125.1" stroke="#222" stroke-width="0.7"/>
<line x1="516.94" y1="127.1" x2="516.94" y2="124.5" stroke="#222" stroke-width="0.7"/>
<line x1="523.53" y1="127.1" x2="523.53" y2="125.6" stroke="#222" stroke-width="0.7"/>
<line x1="538.71" y1="127.1" x2="538.71" y2="124.5" stroke="#222" stroke-width="0.7"/>
<line x1="563.27" y1="127.1" x2="563.27" y2="125.6" stroke="#222" stroke-width="0.7"/>
<line x1="549.57" y1="127.1" x2="549.57" y2="125.6" stroke="#222" stroke-width="0.7"/>
<line x1="524.48" y1="127.1" x2="524.48" y2="125.6" stroke="#222" stroke-width="0.7"/>
<line x1="570.9" y1="127.1" x2="570.9" y2="29" stroke="#111" stroke-width="1.05"/>
<path d="M569.1,127.4 L570.9,125.5 L572.7,127.4 Z" fill="#000"/>
<line x1="612.1" y1="127.1" x2="612.1" y2="109.87" stroke="#111" stroke-width="1.05"/>
<line x1="606.8" y1="127.1" x2="606.8" y2="122.59" stroke="#111" stroke-width="1.05"/>
<text x="570" y="24.2" font-family="'Liberation Sans', sans-serif" font-weight="bold" font-size="7.2" text-anchor="middle" stroke="#000" stroke-width="0.3">301.0723</text>
<text x="612" y="104.6" font-family="'Liberation Sans', sans-serif" font-weight="bold" font-size="7.2" text-anchor="middle" stroke="#000" stroke-width="0.3">433.1179</text>
<text transform="translate(167.9,173.5) scale(1,0.9)" font-family="'Liberation Sans', sans-serif" font-weight="bold" font-size="10.1" text-anchor="middle" stroke="#000" stroke-width="0.32">(guanosine+APAP-2H) isomer 1</text>
<line x1="97.1" y1="195.7" x2="97.1" y2="296.9" stroke="#333" stroke-width="0.9"/>
<line x1="93.7" y1="195.7" x2="97.1" y2="195.7" stroke="#333" stroke-width="0.9"/>
<line x1="93.7" y1="293.3" x2="253.2" y2="293.3" stroke="#222" stroke-width="0.9"/>
<line x1="104.91" y1="293.3" x2="104.91" y2="295.6" stroke="#333" stroke-width="0.8"/>
<line x1="112.71" y1="293.3" x2="112.71" y2="296.9" stroke="#333" stroke-width="0.8"/>
<line x1="120.51" y1="293.3" x2="120.51" y2="295.6" stroke="#333" stroke-width="0.8"/>
<line x1="128.32" y1="293.3" x2="128.32" y2="296.9" stroke="#333" stroke-width="0.8"/>
<line x1="136.12" y1="293.3" x2="136.12" y2="295.6" stroke="#333" stroke-width="0.8"/>
<line x1="143.93" y1="293.3" x2="143.93" y2="296.9" stroke="#333" stroke-width="0.8"/>
<line x1="151.73" y1="293.3" x2="151.73" y2="295.6" stroke="#333" stroke-width="0.8"/>
<line x1="159.54" y1="293.3" x2="159.54" y2="296.9" stroke="#333" stroke-width="0.8"/>
<line x1="167.34" y1="293.3" x2="167.34" y2="295.6" stroke="#333" stroke-width="0.8"/>
<line x1="175.15" y1="293.3" x2="175.15" y2="296.9" stroke="#333" stroke-width="0.8"/>
<line x1="182.95" y1="293.3" x2="182.95" y2="295.6" stroke="#333" stroke-width="0.8"/>
<line x1="190.76" y1="293.3" x2="190.76" y2="296.9" stroke="#333" stroke-width="0.8"/>
<line x1="198.56" y1="293.3" x2="198.56" y2="295.6" stroke="#333" stroke-width="0.8"/>
<line x1="206.37" y1="293.3" x2="206.37" y2="296.9" stroke="#333" stroke-width="0.8"/>
<line x1="214.17" y1="293.3" x2="214.17" y2="295.6" stroke="#333" stroke-width="0.8"/>
<line x1="221.98" y1="293.3" x2="221.98" y2="296.9" stroke="#333" stroke-width="0.8"/>
<line x1="229.78" y1="293.3" x2="229.78" y2="295.6" stroke="#333" stroke-width="0.8"/>
<line x1="237.59" y1="293.3" x2="237.59" y2="296.9" stroke="#333" stroke-width="0.8"/>
<line x1="245.39" y1="293.3" x2="245.39" y2="295.6" stroke="#333" stroke-width="0.8"/>
<line x1="253.2" y1="293.3" x2="253.2" y2="296.9" stroke="#333" stroke-width="0.8"/>
<text x="91.1" y="198.5" font-family="'Liberation Sans', sans-serif" font-weight="bold" font-size="6.0" text-anchor="end" stroke="#000" stroke-width="0.3">46</text>
<text x="91.7" y="296.7" font-family="'Liberation Sans', sans-serif" font-weight="bold" font-size="6.0" text-anchor="end" stroke="#000" stroke-width="0.3">0</text>
<text x="97.1" y="303.7" font-family="'Liberation Sans', sans-serif" font-weight="bold" font-size="6.1" text-anchor="middle" stroke="#000" stroke-width="0.3">100</text>
<text x="128.32" y="303.7" font-family="'Liberation Sans', sans-serif" font-weight="bold" font-size="6.1" text-anchor="middle" stroke="#000" stroke-width="0.3">200</text>
<text x="159.54" y="303.7" font-family="'Liberation Sans', sans-serif" font-weight="bold" font-size="6.1" text-anchor="middle" stroke="#000" stroke-width="0.3">300</text>
<text x="190.76" y="303.7" font-family="'Liberation Sans', sans-serif" font-weight="bold" font-size="6.1" text-anchor="middle" stroke="#000" stroke-width="0.3">400</text>
<text x="221.98" y="303.7" font-family="'Liberation Sans', sans-serif" font-weight="bold" font-size="6.1" text-anchor="middle" stroke="#000" stroke-width="0.3">500</text>
<text x="253.2" y="303.7" font-family="'Liberation Sans', sans-serif" font-weight="bold" font-size="6.1" text-anchor="middle" stroke="#000" stroke-width="0.3">600</text>
<text x="175.15" y="313.1" font-family="'Liberation Sans', sans-serif" font-weight="bold" font-size="6.9" text-anchor="middle" stroke="#000" stroke-width="0.3">m/z</text>
<text transform="translate(82.6,244.9) rotate(-90)" font-family="'Liberation Sans', sans-serif" font-weight="bold" font-size="7.3" text-anchor="middle" stroke="#000" stroke-width="0.3">signal intensity [counts]</text>
<path d="M108.48,293.3 L109.58,292.2 L110.68,293.3 Z" fill="#111"/>
<path d="M104.57,293.3 L105.37,292.2 L106.17,293.3 Z" fill="#111"/>
<path d="M241.67,293.3 L242.47,292.6 L243.27,293.3 Z" fill="#111"/>
<path d="M116.76,293.3 L117.56,292.8 L118.36,293.3 Z" fill="#111"/>
<path d="M203.48,293.3 L204.28,292.4 L205.08,293.3 Z" fill="#111"/>
<path d="M132.92,293.3 L133.32,292.4 L133.72,293.3 Z" fill="#111"/>
<path d="M225.18,293.3 L225.78,292.2 L226.38,293.3 Z" fill="#111"/>
<path d="M151.33,293.3 L152.13,292.8 L152.93,293.3 Z" fill="#111"/>
<path d="M130.67,293.3 L131.27,292.4 L131.87,293.3 Z" fill="#111"/>
<path d="M165.43,293.3 L166.53,292.2 L167.63,293.3 Z" fill="#111"/>
<path d="M132.38,293.3 L132.78,292.8 L133.18,293.3 Z" fill="#111"/>
<path d="M168.59,293.3 L169.69,292.4 L170.79,293.3 Z" fill="#111"/>
<path d="M113.99,293.3 L114.39,292.6 L114.79,293.3 Z" fill="#111"/>
<path d="M120.21,293.3 L121.01,292.2 L121.81,293.3 Z" fill="#111"/>
<path d="M147.01,293.3 L147.81,291.9 L148.61,293.3 Z" fill="#111"/>
<path d="M120.15,293.3 L120.55,292.4 L120.95,293.3 Z" fill="#111"/>
<path d="M239.65,293.3 L240.25,292.4 L240.85,293.3 Z" fill="#111"/>
<path d="M204,293.3 L205.1,292.4 L206.2,293.3 Z" fill="#111"/>
<path d="M137.95,293.3 L138.75,292.8 L139.55,293.3 Z" fill="#111"/>
<path d="M207.2,293.3 L208,292.8 L208.8,293.3 Z" fill="#111"/>
<path d="M208.31,293.3 L208.71,292.2 L209.11,293.3 Z" fill="#111"/>
<path d="M118.92,293.3 L119.72,292.2 L120.52,293.3 Z" fill="#111"/>
<path d="M140.77,293.3 L141.57,292.6 L142.37,293.3 Z" fill="#111"/>
<path d="M138.87,293.3 L139.47,292.2 L140.07,293.3 Z" fill="#111"/>
<path d="M189.74,293.3 L190.14,292.4 L190.54,293.3 Z" fill="#111"/>
<path d="M121.13,293.3 L121.53,292.6 L121.93,293.3 Z" fill="#111"/>
<path d="M103.47,293.3 L104.07,292.6 L104.67,293.3 Z" fill="#111"/>
<path d="M159.88,293.3 L160.48,291.9 L161.08,293.3 Z" fill="#111"/>
<path d="M101.01,293.3 L101.81,291.9 L102.61,293.3 Z" fill="#111"/>
<path d="M143.65,293.3 L144.75,292.6 L145.85,293.3 Z" fill="#111"/>
<path d="M147.74,293.3 L148.14,292.2 L148.54,293.3 Z" fill="#111"/>
<path d="M148.08,293.3 L148.68,292.2 L149.28,293.3 Z" fill="#111"/>
<path d="M100.56,293.3 L101.36,292.4 L102.16,293.3 Z" fill="#111"/>
<path d="M120.53,293.3 L121.63,292.6 L122.73,293.3 Z" fill="#111"/>
<path d="M217.34,293.3 L218.14,292.8 L218.94,293.3 Z" fill="#111"/>
<path d="M211.13,293.3 L211.53,292.2 L211.93,293.3 Z" fill="#111"/>
<path d="M107.8,293.3 L108.4,292.6 L109,293.3 Z" fill="#111"/>
<path d="M172.1,293.3 L173.2,292.4 L174.3,293.3 Z" fill="#111"/>
<path d="M172.15,293.3 L172.95,292.4 L173.75,293.3 Z" fill="#111"/>
<path d="M249.13,293.3 L249.93,292.8 L250.73,293.3 Z" fill="#111"/>
<path d="M237.6,293.3 L238.7,292.8 L239.8,293.3 Z" fill="#111"/>
<path d="M217.19,293.3 L217.59,292.4 L217.99,293.3 Z" fill="#111"/>
<path d="M238.36,293.3 L239.46,292.2 L240.56,293.3 Z" fill="#111"/>
<path d="M203.88,293.3 L204.28,292.6 L204.68,293.3 Z" fill="#111"/>
<path d="M114.93,293.3 L115.73,291.9 L116.53,293.3 Z" fill="#111"/>
<path d="M190.17,293.3 L190.77,292.2 L191.37,293.3 Z" fill="#111"/>
<path d="M198.08,293.3 L198.68,292.6 L199.28,293.3 Z" fill="#111"/>
<path d="M134.61,293.3 L135.71,291.9 L136.81,293.3 Z" fill="#111"/>
<path d="M229.37,293.3 L229.77,292.8 L230.17,293.3 Z" fill="#111"/>
<path d="M109.9,293.3 L110.7,291.9 L111.5,293.3 Z" fill="#111"/>
<path d="M113.27,293.3 L113.67,292.4 L114.07,293.3 Z" fill="#111"/>
<path d="M157.01,293.3 L157.81,292.8 L158.61,293.3 Z" fill="#111"/>
<path d="M243.81,293.3 L244.91,292.8 L246.01,293.3 Z" fill="#111"/>
<path d="M187.09,293.3 L188.19,292.4 L189.29,293.3 Z" fill="#111"/>
<path d="M153.24,293.3 L153.64,292.2 L154.04,293.3 Z" fill="#111"/>
<line x1="108.66" y1="293.3" x2="108.66" y2="290.7" stroke="#222" stroke-width="0.7"/>
<line x1="187.46" y1="293.3" x2="187.46" y2="291.3" stroke="#222" stroke-width="0.7"/>
<line x1="156.22" y1="293.3" x2="156.22" y2="291.3" stroke="#222" stroke-width="0.7"/>
<line x1="145.67" y1="293.3" x2="145.67" y2="290.7" stroke="#222" stroke-width="0.7"/>
<line x1="185.08" y1="293.3" x2="185.08" y2="291.8" stroke="#222" stroke-width="0.7"/>
<line x1="168.91" y1="293.3" x2="168.91" y2="291.8" stroke="#222" stroke-width="0.7"/>
<line x1="169.82" y1="293.3" x2="169.82" y2="291.3" stroke="#222" stroke-width="0.7"/>
<line x1="146.38" y1="293.3" x2="146.38" y2="290.7" stroke="#222" stroke-width="0.7"/>
<line x1="140.95" y1="293.3" x2="140.95" y2="195.7" stroke="#111" stroke-width="1.05"/>
<path d="M139.15,293.6 L140.95,291.7 L142.75,293.6 Z" fill="#000"/>
<line x1="159.3" y1="293.3" x2="159.3" y2="229.65" stroke="#111" stroke-width="1.05"/>
<path d="M157.5,293.6 L159.3,291.7 L161.1,293.6 Z" fill="#000"/>
<line x1="200.4" y1="293.3" x2="200.4" y2="265.93" stroke="#111" stroke-width="1.05"/>
<path d="M198.6,293.6 L200.4,291.7 L202.2,293.6 Z" fill="#000"/>
<line x1="182.3" y1="293.3" x2="182.3" y2="288" stroke="#111" stroke-width="1.05"/>
<text x="141.2" y="192.8" font-family="'Liberation Sans', sans-serif" font-weight="bold" font-size="7.2" text-anchor="middle" stroke="#000" stroke-width="0.3">242.0604</text>
<text x="162.5" y="226.1" font-family="'Liberation Sans', sans-serif" font-weight="bold" font-size="7.2" text-anchor="middle" stroke="#000" stroke-width="0.3">301.0984</text>
<text x="200.6" y="263.5" font-family="'Liberation Sans', sans-serif" font-weight="bold" font-size="7.2" text-anchor="middle" stroke="#000" stroke-width="0.3">433.1414</text>
<text transform="translate(578.3,173.6) scale(1,0.9)" font-family="'Liberation Sans', sans-serif" font-weight="bold" font-size="10.1" text-anchor="middle" stroke="#000" stroke-width="0.32">(guanosine+APAP-2H) isomer 4</text>
<line x1="507.1" y1="195.6" x2="507.1" y2="296.8" stroke="#333" stroke-width="0.9"/>
<line x1="503.7" y1="195.6" x2="507.1" y2="195.6" stroke="#333" stroke-width="0.9"/>
<line x1="503.7" y1="293.2" x2="663.2" y2="293.2" stroke="#222" stroke-width="0.9"/>
<line x1="514.9" y1="293.2" x2="514.9" y2="295.5" stroke="#333" stroke-width="0.8"/>
<line x1="522.71" y1="293.2" x2="522.71" y2="296.8" stroke="#333" stroke-width="0.8"/>
<line x1="530.51" y1="293.2" x2="530.51" y2="295.5" stroke="#333" stroke-width="0.8"/>
<line x1="538.32" y1="293.2" x2="538.32" y2="296.8" stroke="#333" stroke-width="0.8"/>
<line x1="546.12" y1="293.2" x2="546.12" y2="295.5" stroke="#333" stroke-width="0.8"/>
<line x1="553.93" y1="293.2" x2="553.93" y2="296.8" stroke="#333" stroke-width="0.8"/>
<line x1="561.74" y1="293.2" x2="561.74" y2="295.5" stroke="#333" stroke-width="0.8"/>
<line x1="569.54" y1="293.2" x2="569.54" y2="296.8" stroke="#333" stroke-width="0.8"/>
<line x1="577.35" y1="293.2" x2="577.35" y2="295.5" stroke="#333" stroke-width="0.8"/>
<line x1="585.15" y1="293.2" x2="585.15" y2="296.8" stroke="#333" stroke-width="0.8"/>
<line x1="592.96" y1="293.2" x2="592.96" y2="295.5" stroke="#333" stroke-width="0.8"/>
<line x1="600.76" y1="293.2" x2="600.76" y2="296.8" stroke="#333" stroke-width="0.8"/>
<line x1="608.57" y1="293.2" x2="608.57" y2="295.5" stroke="#333" stroke-width="0.8"/>
<line x1="616.37" y1="293.2" x2="616.37" y2="296.8" stroke="#333" stroke-width="0.8"/>
<line x1="624.17" y1="293.2" x2="624.17" y2="295.5" stroke="#333" stroke-width="0.8"/>
<line x1="631.98" y1="293.2" x2="631.98" y2="296.8" stroke="#333" stroke-width="0.8"/>
<line x1="639.79" y1="293.2" x2="639.79" y2="295.5" stroke="#333" stroke-width="0.8"/>
<line x1="647.59" y1="293.2" x2="647.59" y2="296.8" stroke="#333" stroke-width="0.8"/>
<line x1="655.39" y1="293.2" x2="655.39" y2="295.5" stroke="#333" stroke-width="0.8"/>
<line x1="663.2" y1="293.2" x2="663.2" y2="296.8" stroke="#333" stroke-width="0.8"/>
<text x="501.5" y="198.4" font-family="'Liberation Sans', sans-serif" font-weight="bold" font-size="6.0" text-anchor="end" stroke="#000" stroke-width="0.3">35</text>
<text x="501.7" y="296.6" font-family="'Liberation Sans', sans-serif" font-weight="bold" font-size="6.0" text-anchor="end" stroke="#000" stroke-width="0.3">0</text>
<text x="507.1" y="303.6" font-family="'Liberation Sans', sans-serif" font-weight="bold" font-size="6.1" text-anchor="middle" stroke="#000" stroke-width="0.3">100</text>
<text x="538.32" y="303.6" font-family="'Liberation Sans', sans-serif" font-weight="bold" font-size="6.1" text-anchor="middle" stroke="#000" stroke-width="0.3">200</text>
<text x="569.54" y="303.6" font-family="'Liberation Sans', sans-serif" font-weight="bold" font-size="6.1" text-anchor="middle" stroke="#000" stroke-width="0.3">300</text>
<text x="600.76" y="303.6" font-family="'Liberation Sans', sans-serif" font-weight="bold" font-size="6.1" text-anchor="middle" stroke="#000" stroke-width="0.3">400</text>
<text x="631.98" y="303.6" font-family="'Liberation Sans', sans-serif" font-weight="bold" font-size="6.1" text-anchor="middle" stroke="#000" stroke-width="0.3">500</text>
<text x="663.2" y="303.6" font-family="'Liberation Sans', sans-serif" font-weight="bold" font-size="6.1" text-anchor="middle" stroke="#000" stroke-width="0.3">600</text>
<text x="585.15" y="313" font-family="'Liberation Sans', sans-serif" font-weight="bold" font-size="6.9" text-anchor="middle" stroke="#000" stroke-width="0.3">m/z</text>
<text transform="translate(493.1,244.8) rotate(-90)" font-family="'Liberation Sans', sans-serif" font-weight="bold" font-size="7.3" text-anchor="middle" stroke="#000" stroke-width="0.3">signal intensity [counts]</text>
<path d="M592.55,293.2 L592.95,291.8 L593.35,293.2 Z" fill="#111"/>
<path d="M652.5,293.2 L652.9,292.5 L653.3,293.2 Z" fill="#111"/>
<path d="M626.43,293.2 L627.03,292.1 L627.63,293.2 Z" fill="#111"/>
<path d="M519.04,293.2 L519.44,292.5 L519.84,293.2 Z" fill="#111"/>
<path d="M553.52,293.2 L554.62,292.5 L555.72,293.2 Z" fill="#111"/>
<path d="M598.21,293.2 L599.31,292.5 L600.41,293.2 Z" fill="#111"/>
<path d="M507.33,293.2 L507.93,292.7 L508.53,293.2 Z" fill="#111"/>
<path d="M617.43,293.2 L618.03,292.5 L618.63,293.2 Z" fill="#111"/>
<path d="M617.59,293.2 L618.19,291.8 L618.79,293.2 Z" fill="#111"/>
<path d="M617.9,293.2 L619,292.5 L620.1,293.2 Z" fill="#111"/>
<path d="M548.62,293.2 L549.22,292.5 L549.82,293.2 Z" fill="#111"/>
<path d="M545.45,293.2 L545.85,291.8 L546.25,293.2 Z" fill="#111"/>
<path d="M588.23,293.2 L589.03,292.7 L589.83,293.2 Z" fill="#111"/>
<path d="M542.29,293.2 L542.89,292.3 L543.49,293.2 Z" fill="#111"/>
<path d="M587.88,293.2 L588.68,292.7 L589.48,293.2 Z" fill="#111"/>
<path d="M622.41,293.2 L623.51,292.3 L624.61,293.2 Z" fill="#111"/>
<path d="M597.13,293.2 L598.23,292.3 L599.33,293.2 Z" fill="#111"/>
<path d="M508.17,293.2 L508.77,292.7 L509.37,293.2 Z" fill="#111"/>
<path d="M616.77,293.2 L617.37,292.7 L617.97,293.2 Z" fill="#111"/>
<path d="M658.58,293.2 L659.38,292.3 L660.18,293.2 Z" fill="#111"/>
<path d="M632.01,293.2 L632.41,292.1 L632.81,293.2 Z" fill="#111"/>
<path d="M596.65,293.2 L597.45,292.3 L598.25,293.2 Z" fill="#111"/>
<path d="M615.79,293.2 L616.39,292.7 L616.99,293.2 Z" fill="#111"/>
<path d="M577.1,293.2 L577.9,292.5 L578.7,293.2 Z" fill="#111"/>
<path d="M587.65,293.2 L588.45,292.7 L589.25,293.2 Z" fill="#111"/>
<path d="M542.3,293.2 L542.9,292.7 L543.5,293.2 Z" fill="#111"/>
<path d="M542.66,293.2 L543.26,292.1 L543.86,293.2 Z" fill="#111"/>
<path d="M515.93,293.2 L517.03,291.8 L518.13,293.2 Z" fill="#111"/>
<path d="M592.01,293.2 L592.81,292.3 L593.61,293.2 Z" fill="#111"/>
<path d="M555.78,293.2 L556.18,292.7 L556.58,293.2 Z" fill="#111"/>
<path d="M635.06,293.2 L635.66,292.5 L636.26,293.2 Z" fill="#111"/>
<path d="M643.53,293.2 L644.63,292.5 L645.73,293.2 Z" fill="#111"/>
<path d="M557.25,293.2 L557.65,292.5 L558.05,293.2 Z" fill="#111"/>
<path d="M633.52,293.2 L634.12,292.1 L634.72,293.2 Z" fill="#111"/>
<path d="M639.51,293.2 L640.31,292.1 L641.11,293.2 Z" fill="#111"/>
<path d="M540.56,293.2 L541.16,292.1 L541.76,293.2 Z" fill="#111"/>
<path d="M601.57,293.2 L602.17,291.8 L602.77,293.2 Z" fill="#111"/>
<path d="M564.49,293.2 L565.09,292.3 L565.69,293.2 Z" fill="#111"/>
<path d="M538.21,293.2 L539.01,291.8 L539.81,293.2 Z" fill="#111"/>
<path d="M598.68,293.2 L599.08,292.3 L599.48,293.2 Z" fill="#111"/>
<path d="M548.38,293.2 L549.48,292.3 L550.58,293.2 Z" fill="#111"/>
<path d="M619.63,293.2 L620.43,292.3 L621.23,293.2 Z" fill="#111"/>
<path d="M573.34,293.2 L574.44,292.7 L575.54,293.2 Z" fill="#111"/>
<path d="M535.43,293.2 L536.53,292.3 L537.63,293.2 Z" fill="#111"/>
<path d="M564.41,293.2 L565.21,292.3 L566.01,293.2 Z" fill="#111"/>
<path d="M546.63,293.2 L547.43,292.1 L548.23,293.2 Z" fill="#111"/>
<path d="M628.54,293.2 L629.34,292.1 L630.14,293.2 Z" fill="#111"/>
<path d="M642.23,293.2 L642.83,291.8 L643.43,293.2 Z" fill="#111"/>
<path d="M548.52,293.2 L549.32,292.1 L550.12,293.2 Z" fill="#111"/>
<path d="M589.81,293.2 L590.41,292.1 L591.01,293.2 Z" fill="#111"/>
<path d="M614.19,293.2 L615.29,291.8 L616.39,293.2 Z" fill="#111"/>
<path d="M570.88,293.2 L571.28,292.3 L571.68,293.2 Z" fill="#111"/>
<path d="M574.5,293.2 L575.1,291.8 L575.7,293.2 Z" fill="#111"/>
<path d="M585.43,293.2 L586.53,292.7 L587.63,293.2 Z" fill="#111"/>
<path d="M628.68,293.2 L629.08,292.5 L629.48,293.2 Z" fill="#111"/>
<line x1="544.9" y1="293.2" x2="544.9" y2="291.7" stroke="#222" stroke-width="0.7"/>
<line x1="562.96" y1="293.2" x2="562.96" y2="290.6" stroke="#222" stroke-width="0.7"/>
<line x1="514.12" y1="293.2" x2="514.12" y2="291.2" stroke="#222" stroke-width="0.7"/>
<line x1="548.59" y1="293.2" x2="548.59" y2="290.6" stroke="#222" stroke-width="0.7"/>
<line x1="577.07" y1="293.2" x2="577.07" y2="290.6" stroke="#222" stroke-width="0.7"/>
<line x1="532.55" y1="293.2" x2="532.55" y2="290.6" stroke="#222" stroke-width="0.7"/>
<line x1="608.91" y1="293.2" x2="608.91" y2="291.7" stroke="#222" stroke-width="0.7"/>
<line x1="548.52" y1="293.2" x2="548.52" y2="291.2" stroke="#222" stroke-width="0.7"/>
<line x1="569.5" y1="293.2" x2="569.5" y2="195.6" stroke="#111" stroke-width="1.05"/>
<path d="M567.7,293.5 L569.5,291.6 L571.3,293.5 Z" fill="#000"/>
<line x1="611" y1="293.2" x2="611" y2="279.81" stroke="#111" stroke-width="1.05"/>
<line x1="605.5" y1="293.2" x2="605.5" y2="286.23" stroke="#111" stroke-width="1.05"/>
<text x="569.8" y="192.1" font-family="'Liberation Sans', sans-serif" font-weight="bold" font-size="7.2" text-anchor="middle" stroke="#000" stroke-width="0.3">301.1050</text>
<text x="610.9" y="276.2" font-family="'Liberation Sans', sans-serif" font-weight="bold" font-size="7.2" text-anchor="middle" stroke="#000" stroke-width="0.3">433.1336</text>
</svg>
</body></html>
